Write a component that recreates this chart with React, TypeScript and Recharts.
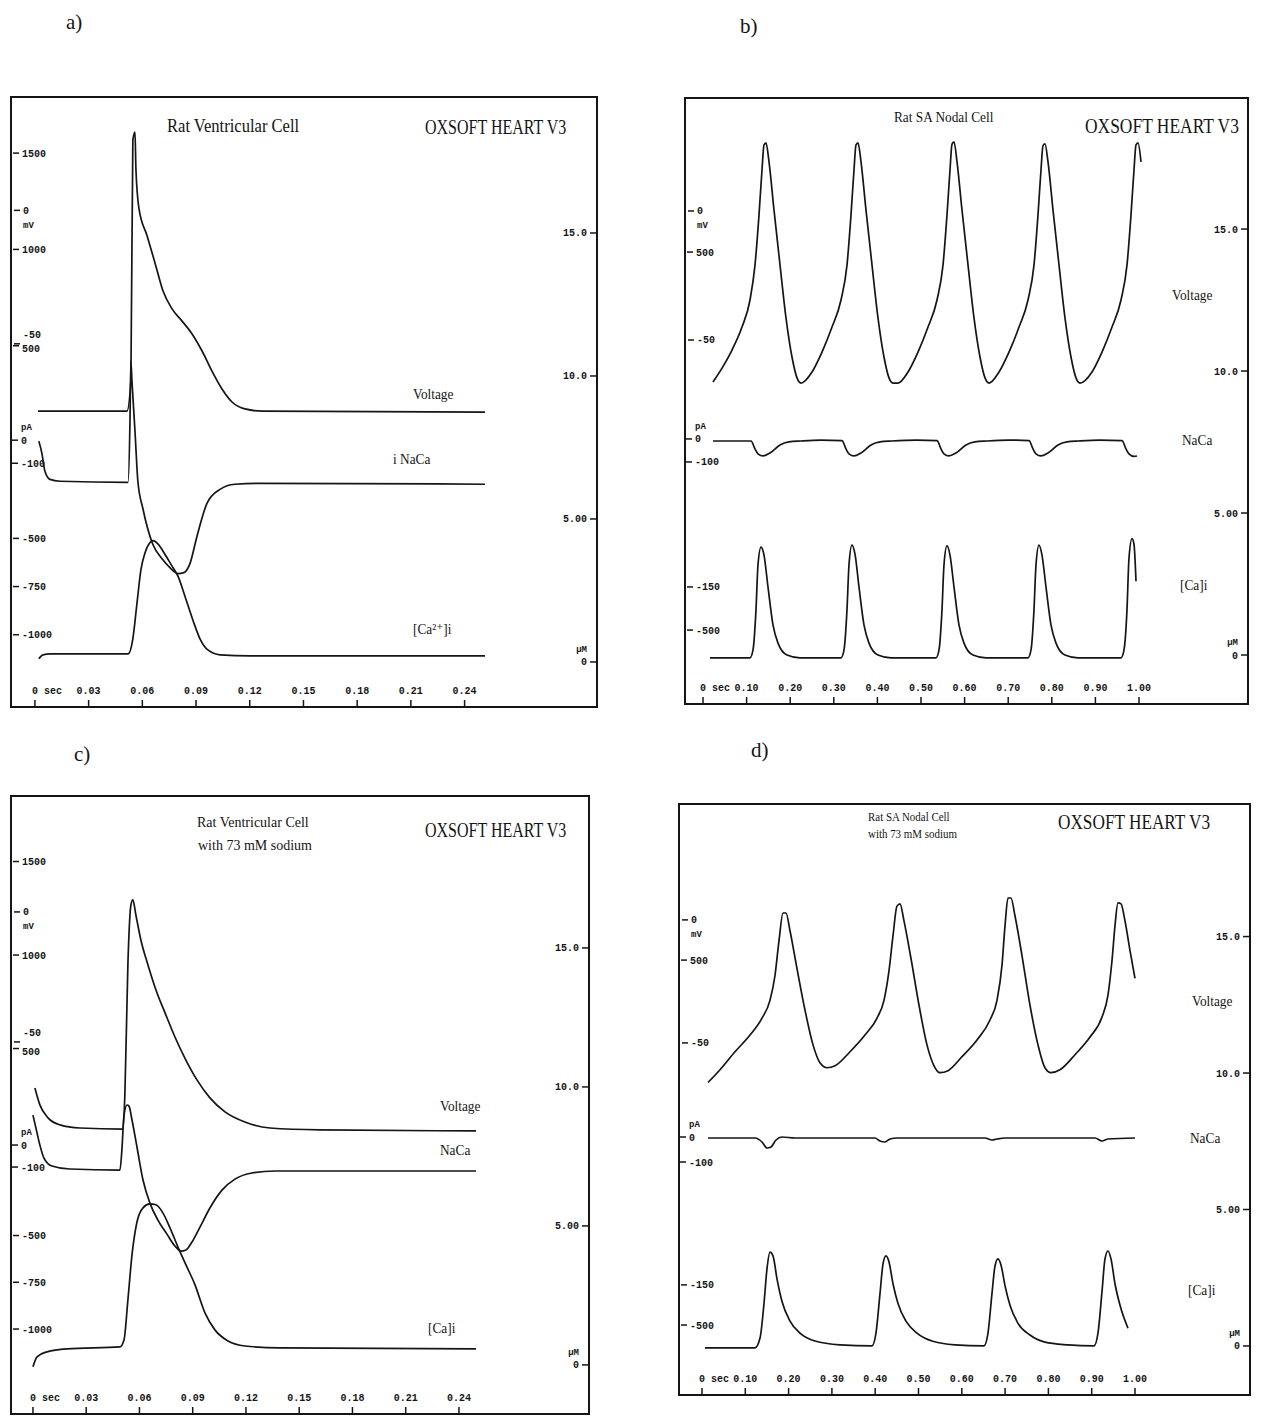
import { Line, LineChart, XAxis, YAxis } from "recharts";

// ---------- a) rat ventricular cell ----------
const aVoltT = [0.0017, 0.0514, 0.0536, 0.0547, 0.0559, 0.0564, 0.0581, 0.0626, 0.067, 0.0715, 0.0765, 0.0821, 0.0877, 0.0933, 0.0989, 0.1045, 0.1101, 0.1173, 0.1268, 0.2514];
const aVoltV = [-75.2, -75.2, -63.9, 26.3, 29.3, 15.8, 0.75, -9.4, -19.5, -30.1, -36.8, -41.4, -46.2, -52.6, -60.2, -66.9, -71.8, -74.4, -75.2, -75.6];
const aNaT = [0.0022, 0.0039, 0.0056, 0.0084, 0.014, 0.052, 0.0531, 0.0536, 0.0542, 0.0559, 0.0575, 0.0603, 0.0659, 0.0709, 0.0754, 0.0799, 0.0832, 0.0866, 0.0905, 0.0961, 0.1034, 0.1117, 0.1257, 0.2514];
const aNaV = [-4, -57, -135, -170, -178, -183, 83, 343, 257, 39, -178, -296, -452, -513, -552, -578, -574, -535, -417, -274, -213, -191, -187, -191];
const aCaT = [0.0022, 0.0045, 0.0084, 0.052, 0.0547, 0.057, 0.0592, 0.0615, 0.0642, 0.0659, 0.0687, 0.0721, 0.0765, 0.0799, 0.0838, 0.0883, 0.0922, 0.0966, 0.1034, 0.1201, 0.2514];
const aCaV = [0.11, 0.25, 0.28, 0.28, 0.81, 2.05, 3.22, 3.82, 4.17, 4.24, 4.13, 3.82, 3.36, 3.0, 2.3, 1.45, 0.81, 0.42, 0.25, 0.21, 0.21];

// ---------- b) rat SA nodal cell ----------
const bVoltT = [
  0.0229, 0.0436, 0.0665, 0.0894, 0.1078, 0.1193, 0.1284, 0.1353, 0.1399, 0.1445, 0.1514, 0.1628, 0.1766, 0.1904, 0.2041, 0.2156, 0.2248,
  0.25, 0.2729, 0.2959, 0.3165, 0.3303, 0.3394, 0.3463, 0.3509, 0.3555, 0.3624, 0.3738, 0.3876, 0.4014, 0.4151, 0.4266, 0.4358,
  0.4473, 0.4702, 0.4931, 0.5161, 0.5367, 0.5505, 0.5596, 0.5665, 0.5711, 0.5757, 0.5826, 0.594, 0.6078, 0.6216, 0.6353, 0.6468, 0.656,
  0.6789, 0.7018, 0.7248, 0.7454, 0.7592, 0.7683, 0.7752, 0.7798, 0.7844, 0.7913, 0.8027, 0.8165, 0.8303, 0.844, 0.8555, 0.8647,
  0.8922, 0.9151, 0.9381, 0.9587, 0.9725, 0.9816, 0.9885, 0.9931, 0.9977, 1.0046,
];
const bVoltV = [
  -66.3, -60.9, -53.9, -45, -34.5, -20.9, -1.6, 15.9, 25.6, 26.4, 19, 0.4, -20.9, -41.5, -56.6, -64.7, -66.7,
  -62.4, -54.7, -45, -34.5, -20.9, -1.6, 15.9, 25.6, 26.4, 19, 0.4, -20.9, -41.5, -56.6, -64.7, -66.7,
  -66.7, -62.4, -54.7, -45, -34.5, -20.9, -1.6, 15.9, 25.9, 26.8, 19, 0.4, -20.9, -41.5, -56.6, -64.7, -66.7,
  -62.4, -54.7, -45, -34.5, -20.9, -1.6, 15.9, 25.3, 26.0, 19, 0.4, -20.9, -41.5, -56.6, -64.7, -66.7,
  -62.4, -54.7, -45, -34.5, -20.9, -1.6, 15.9, 25.6, 26.4, 19,
];
const bNaT = [
  0.0229, 0.06, 0.1101, 0.1192, 0.1261, 0.1376, 0.1536, 0.1766, 0.1972, 0.2247, 0.27,
  0.3188, 0.3279, 0.3348, 0.3463, 0.3623, 0.3853, 0.4059, 0.4334, 0.49,
  0.5367, 0.5458, 0.5527, 0.5642, 0.5802, 0.6032, 0.6238, 0.6513, 0.7,
  0.7477, 0.7568, 0.7637, 0.7752, 0.7912, 0.8142, 0.8348, 0.8623, 0.91,
  0.961, 0.9701, 0.977, 0.9885, 0.9954,
];
const bNaV = [
  -9, -9, -9, -43, -65, -74, -61, -26, -13, -9, -5,
  -7, -43, -65, -74, -61, -26, -13, -9, -5,
  -7, -43, -65, -74, -61, -26, -13, -9, -5,
  -7, -43, -65, -74, -61, -26, -13, -9, -5,
  -7, -43, -65, -76, -74,
];
const bCaT = [
  0.0161, 0.1078, 0.1147, 0.1215, 0.1261, 0.133, 0.1399, 0.1491, 0.1605, 0.172, 0.1926, 0.2224,
  0.3165, 0.3234, 0.3302, 0.3348, 0.3417, 0.3486, 0.3578, 0.3692, 0.3807, 0.4013, 0.4311,
  0.5344, 0.5413, 0.5481, 0.5527, 0.5596, 0.5665, 0.5757, 0.5871, 0.5986, 0.6192, 0.649,
  0.7454, 0.7523, 0.7591, 0.7637, 0.7706, 0.7775, 0.7867, 0.7981, 0.8096, 0.8302, 0.86,
  0.9587, 0.9656, 0.9724, 0.977, 0.9839, 0.9885, 0.9931,
];
const bCaV = [
  -0.1, -0.1, 0.18, 1.58, 3.17, 3.8, 3.52, 2.39, 1.06, 0.42, 0.0, -0.1,
  -0.1, 0.18, 1.58, 3.17, 3.87, 3.55, 2.39, 1.06, 0.42, 0.0, -0.1,
  -0.1, 0.18, 1.58, 3.17, 3.84, 3.52, 2.39, 1.06, 0.42, 0.0, -0.1,
  -0.1, 0.18, 1.58, 3.17, 3.87, 3.52, 2.39, 1.06, 0.42, 0.0, -0.1,
  -0.1, 0.18, 1.58, 3.4, 4.1, 3.9, 2.6,
];

// ---------- c) rat ventricular cell, 73 mM sodium ----------
const cVoltT = [0.0011, 0.0039, 0.0085, 0.0152, 0.0265, 0.0507, 0.0518, 0.0535, 0.0552, 0.0563, 0.058, 0.0608, 0.0648, 0.0693, 0.0744, 0.08, 0.0856, 0.0924, 0.0997, 0.1082, 0.1194, 0.1335, 0.1617, 0.2496];
const cVoltV = [-67.7, -74.2, -79.2, -81.9, -83.1, -83.5, -70, -20, 2.7, 4.6, -1.2, -10.8, -20.4, -30, -38.8, -48.1, -56.2, -64.6, -71.5, -76.9, -80.8, -83.1, -83.8, -84.2];
const cNaT = [0, 0.0017, 0.0039, 0.0062, 0.0107, 0.0208, 0.049, 0.0501, 0.0513, 0.053, 0.0541, 0.0558, 0.0586, 0.062, 0.0659, 0.0704, 0.0755, 0.08, 0.0834, 0.0862, 0.0896, 0.0941, 0.0997, 0.1065, 0.1138, 0.1234, 0.1363, 0.2496];
const cNaV = [136, 77, 0, -59, -95, -109, -114, -23, 136, 182, 177, 114, -9, -159, -264, -341, -405, -459, -482, -477, -441, -373, -286, -205, -155, -127, -118, -118];
const cCaT = [0, 0.0023, 0.0079, 0.0192, 0.049, 0.0513, 0.0535, 0.0558, 0.0586, 0.062, 0.0659, 0.0693, 0.0732, 0.0772, 0.0817, 0.0862, 0.0913, 0.0969, 0.1025, 0.1099, 0.1194, 0.1392, 0.2496];
const cCaV = [-0.07, 0.29, 0.47, 0.58, 0.65, 0.9, 2.34, 3.96, 5.14, 5.65, 5.79, 5.76, 5.47, 4.93, 4.24, 3.6, 2.88, 1.87, 1.26, 0.86, 0.68, 0.61, 0.58];

// ---------- d) rat SA nodal cell, 73 mM sodium ----------
const dVoltT = [
  0.0139, 0.0416, 0.0762, 0.1109, 0.1386, 0.157, 0.1686, 0.1778, 0.1871, 0.194,
  0.2032, 0.2194, 0.2379, 0.2564, 0.2725, 0.2887, 0.3072, 0.3418, 0.3764, 0.4042,
  0.4203, 0.4319, 0.4411, 0.4503, 0.4573, 0.4665, 0.4827, 0.5012, 0.5196, 0.5358,
  0.5497, 0.5681, 0.6005, 0.6351, 0.6651, 0.6813, 0.6928, 0.6998, 0.7067, 0.7136,
  0.7229, 0.739, 0.7575, 0.776, 0.7921, 0.806, 0.8268, 0.8614, 0.8961, 0.9238,
  0.9376, 0.9469, 0.9538, 0.9607, 0.9677, 0.9769, 0.9885, 1.0,
];
const dVoltV = [
  -66.1, -60.9, -53.6, -46.8, -39.9, -32.7, -22.6, -8.5, 2.8, 2.8,
  -4.4, -19.8, -36.7, -50.8, -58.1, -60.1, -59.3, -53.6, -46.8, -39.9,
  -32.7, -20.6, -6.5, 5.6, 6.5, -0.4, -15.7, -34.7, -50.8, -59.3,
  -62.1, -61.3, -55.6, -48.8, -40.7, -32.7, -18.5, -2.4, 8.9, 8.9,
  1.6, -14.5, -34.7, -50.8, -60.1, -62.1, -60.9, -54.8, -47.6, -39.5,
  -30.6, -16.5, -2.4, 6.9, 6.5, -0.4, -12.5, -23.8,
];
const dNaT = [0.0139, 0.1224, 0.1386, 0.1501, 0.1594, 0.1709, 0.1848, 0.2148, 0.3995, 0.4111, 0.4226, 0.4342, 0.4503, 0.6536, 0.6697, 0.6813, 0.6998, 0.9076, 0.9238, 0.9376, 1.0];
const dNaV = [-4, -4, -20, -44, -40, -12, 0, -4, -4, -16, -20, -8, -4, -4, -12, -8, -4, -4, -16, -8, -4];
const dCaT = [
  0.0069, 0.1224, 0.134, 0.1432, 0.1501, 0.157, 0.164, 0.1732, 0.1848, 0.2032, 0.2263, 0.261, 0.3187,
  0.3926, 0.4018, 0.4111, 0.418, 0.4249, 0.4319, 0.4411, 0.4527, 0.4711, 0.4965, 0.5312, 0.5843,
  0.6513, 0.6605, 0.6697, 0.6767, 0.6836, 0.6905, 0.6998, 0.7113, 0.7298, 0.7575, 0.7921, 0.8453,
  0.9053, 0.9145, 0.9238, 0.9307, 0.9376, 0.9446, 0.9538, 0.9654, 0.9838,
];
const dCaV = [
  -0.07, -0.07, 0.29, 1.56, 2.83, 3.44, 3.3, 2.46, 1.63, 0.91, 0.47, 0.18, 0.04,
  0.0, 0.47, 1.92, 3.0, 3.3, 3.08, 2.28, 1.56, 0.91, 0.47, 0.18, 0.04,
  0.0, 0.47, 1.92, 2.93, 3.19, 2.97, 2.21, 1.49, 0.83, 0.4, 0.14, 0.04,
  0.0, 0.47, 1.99, 3.19, 3.48, 3.19, 2.28, 1.49, 0.65,
];

// ---------- tick values & labels ----------
const ventXTicks = [0, 0.03, 0.06, 0.09, 0.12, 0.15, 0.18, 0.21, 0.24];
const ventXLabels = ["0 sec", "0.03", "0.06", "0.09", "0.12", "0.15", "0.18", "0.21", "0.24"];
const nodalXTicks = [0, 0.1, 0.2, 0.3, 0.4, 0.5, 0.6, 0.7, 0.8, 0.9, 1.0];
const nodalXLabels = ["0 sec", "0.10", "0.20", "0.30", "0.40", "0.50", "0.60", "0.70", "0.80", "0.90", "1.00"];
const voltTicks = [0, -50];
const voltLabels = ["0", "-50"];
const naTicks = [0, -100];
const naLabels = ["0", "-100"];
const ventScaleTicks = [1500, 1000, 500, -500, -750, -1000];
const ventScaleLabels = ["1500", "1000", "500", "-500", "-750", "-1000"];
const bScaleTicks = [500, -386, -500];
const dScaleTicks = [500, -390, -500];
const nodalScaleLabels = ["500", "-150", "-500"];
const caTicks = [15, 10, 5, 0];
const caLabels = ["15.0", "10.0", "5.00", "0"];

const ink = "#151515";
const tickFont = "Liberation Mono, DejaVu Sans Mono, monospace";
const serif = "Liberation Serif, DejaVu Serif, serif";

type Box = { l: number; t: number; r: number; b: number };
type YAx = {
  id: string;
  side: "left" | "right";
  domain: [number, number];
  ticks: number[];
  labels: string[];
  unit?: string;
  unitDy?: number;
  nudge?: number[]; // vertical nudge of a crowded label, px
};
type Series = { id: string; ts: number[]; vs: number[] };

const zip = (ts: number[], vs: number[]) => ts.map((t, i) => ({ t, y: vs[i] }));

function YTick(props: any) {
  const { x, y, payload, textAnchor, ax } = props;
  const i = ax.ticks.indexOf(payload.value);
  const isZero = payload.value === 0 && ax.unit;
  const nudge = ax.nudge ? ax.nudge[i] : 0;
  return (
    <g>
      <text x={x} y={y + nudge} dy="0.35em" textAnchor={textAnchor} fontFamily={tickFont} fontSize={10} fontWeight={700} fill={ink}>
        {ax.labels[i]}
      </text>
      {isZero ? (
        <text x={x} y={y + ax.unitDy} dy="0.35em" textAnchor={textAnchor} fontFamily={tickFont} fontSize={9} fontWeight={700} fill={ink}>
          {ax.unit}
        </text>
      ) : null}
    </g>
  );
}

function XTick(props: any) {
  const { x, y, payload, ticks, labels } = props;
  const i = ticks.indexOf(payload.value);
  const first = i === 0;
  return (
    <text x={first ? x - 3 : x} y={y} dy={-1} textAnchor={first ? "start" : "middle"} fontFamily={tickFont} fontSize={10} fontWeight={700} fill={ink}>
      {labels[i]}
    </text>
  );
}

function Panel({ box, xDomain, xTicks, xLabels, axes, series }: {
  box: Box;
  xDomain: [number, number];
  xTicks: number[];
  xLabels: string[];
  axes: YAx[];
  series: Series[];
}) {
  const w = box.r - box.l - 4;
  const h = box.b - box.t - 4;
  return (
    <div style={{ position: "absolute", left: box.l, top: box.t, width: w, height: h, border: `2px solid ${ink}` }}>
      <LineChart width={w} height={h} margin={{ top: 0, right: 0, bottom: 0, left: 0 }} style={{ overflow: "visible" }}>
        <XAxis
          type="number"
          dataKey="t"
          domain={xDomain}
          allowDataOverflow
          ticks={xTicks}
          interval={0}
          mirror
          height={1}
          axisLine={false}
          tickSize={6}
          tickMargin={5}
          tickLine={{ stroke: ink, strokeWidth: 1.5 }}
          tick={(p: any) => <XTick {...p} ticks={xTicks} labels={xLabels} />}
        />
        {axes.map((a) => (
          <YAxis
            key={a.id}
            yAxisId={a.id}
            orientation={a.side}
            type="number"
            domain={a.domain}
            allowDataOverflow
            ticks={a.ticks}
            interval={0}
            mirror
            width={1}
            axisLine={false}
            tickSize={6}
            tickMargin={3}
            tickLine={{ stroke: ink, strokeWidth: 1.5 }}
            tick={(p: any) => <YTick {...p} ax={a} />}
          />
        ))}
        {series.map((s) => (
          <Line
            key={s.id}
            yAxisId={s.id}
            data={zip(s.ts, s.vs)}
            dataKey="y"
            type="monotone"
            dot={false}
            activeDot={false}
            stroke={ink}
            strokeWidth={1.7}
            isAnimationActive={false}
          />
        ))}
      </LineChart>
    </div>
  );
}

function Label({ x, y, size, text, sx }: { x: number; y: number; size: number; text: string; sx?: number }) {
  return (
    <div
      style={{
        position: "absolute",
        left: x,
        top: y,
        fontFamily: serif,
        fontSize: size,
        lineHeight: 1,
        color: ink,
        whiteSpace: "nowrap",
        transform: sx ? `scaleX(${sx})` : undefined,
        transformOrigin: "left top",
      }}
    >
      {text}
    </div>
  );
}

export default function App() {
  return (
    <div style={{ position: "absolute", left: 0, top: 0, width: 1263, height: 1418, background: "#fff", overflow: "hidden" }}>
      <Panel
        box={{ l: 10, t: 96, r: 598, b: 708 }}
        xDomain={[-0.0128, 0.3134]}
        xTicks={ventXTicks}
        xLabels={ventXLabels}
        axes={[
          { id: "v", side: "left", domain: [-185.7, 42.1], ticks: voltTicks, labels: voltLabels, unit: "mV", unitDy: 14, nudge: [0, -9] },
          { id: "n", side: "left", domain: [-1152, 1483], ticks: naTicks, labels: naLabels, unit: "pA", unitDy: -13 },
          { id: "s", side: "left", domain: [-1370, 1786], ticks: ventScaleTicks, labels: ventScaleLabels, nudge: [0, 0, 3, 0, 0, 0] },
          { id: "c", side: "right", domain: [-1.54, 19.72], ticks: caTicks, labels: caLabels, unit: "µM", unitDy: -13 },
        ]}
        series={[
          { id: "v", ts: aVoltT, vs: aVoltV },
          { id: "n", ts: aNaT, vs: aNaV },
          { id: "c", ts: aCaT, vs: aCaV },
        ]}
      />
      <Panel
        box={{ l: 684, t: 97, r: 1249, b: 705 }}
        xDomain={[-0.039, 1.2477]}
        xTicks={nodalXTicks}
        xLabels={nodalXLabels}
        axes={[
          { id: "v", side: "left", domain: [-190.7, 43.4], ticks: voltTicks, labels: voltLabels, unit: "mV", unitDy: 14 },
          { id: "n", side: "left", domain: [-1148, 1478], ticks: naTicks, labels: naLabels, unit: "pA", unitDy: -13 },
          { id: "s", side: "left", domain: [-693, 905], ticks: bScaleTicks, labels: nodalScaleLabels },
          { id: "c", side: "right", domain: [-1.69, 19.58], ticks: caTicks, labels: caLabels, unit: "µM", unitDy: -13 },
        ]}
        series={[
          { id: "v", ts: bVoltT, vs: bVoltV },
          { id: "n", ts: bNaT, vs: bNaV },
          { id: "c", ts: bCaT, vs: bCaV },
        ]}
      />
      <Panel
        box={{ l: 10, t: 795, r: 590, b: 1415 }}
        xDomain={[-0.0118, 0.3127]}
        xTicks={ventXTicks}
        xLabels={ventXLabels}
        axes={[
          { id: "v", side: "left", domain: [-192.7, 44.2], ticks: voltTicks, labels: voltLabels, unit: "mV", unitDy: 14, nudge: [0, -9] },
          { id: "n", side: "left", domain: [-1218, 1582], ticks: naTicks, labels: naLabels, unit: "pA", unitDy: -13 },
          { id: "s", side: "left", domain: [-1449, 1845], ticks: ventScaleTicks, labels: ventScaleLabels, nudge: [0, 0, 3, 0, 0, 0] },
          { id: "c", side: "right", domain: [-1.73, 20.43], ticks: caTicks, labels: caLabels, unit: "µM", unitDy: -13 },
        ]}
        series={[
          { id: "v", ts: cVoltT, vs: cVoltV },
          { id: "n", ts: cNaT, vs: cNaV },
          { id: "c", ts: cCaT, vs: cCaV },
        ]}
      />
      <Panel
        box={{ l: 678, t: 803, r: 1251, b: 1396 }}
        xDomain={[-0.0508, 1.2633]}
        xTicks={nodalXTicks}
        xLabels={nodalXLabels}
        axes={[
          { id: "v", side: "left", domain: [-192.7, 46.7], ticks: voltTicks, labels: voltLabels, unit: "mV", unitDy: 14 },
          { id: "n", side: "left", domain: [-1028, 1328], ticks: naTicks, labels: naLabels, unit: "pA", unitDy: -13 },
          { id: "s", side: "left", domain: [-689, 925], ticks: dScaleTicks, labels: nodalScaleLabels },
          { id: "c", side: "right", domain: [-1.76, 19.82], ticks: caTicks, labels: caLabels, unit: "µM", unitDy: -13 },
        ]}
        series={[
          { id: "v", ts: dVoltT, vs: dVoltV },
          { id: "n", ts: dNaT, vs: dNaV },
          { id: "c", ts: dCaT, vs: dCaV },
        ]}
      />

      <Label x={66} y={12} size={21} text="a)" />
      <Label x={740} y={16} size={21} text="b)" />
      <Label x={74} y={744} size={21} text="c)" />
      <Label x={751} y={740} size={21} text="d)" />

      <Label x={167} y={117} size={18} sx={0.92} text="Rat Ventricular Cell" />
      <Label x={425} y={117} size={20} sx={0.8} text="OXSOFT HEART V3" />
      <Label x={894} y={111} size={14} sx={0.95} text="Rat SA Nodal Cell" />
      <Label x={1085} y={116} size={21} sx={0.83} text="OXSOFT HEART V3" />
      <Label x={197} y={816} size={14} sx={1.0} text="Rat Ventricular Cell" />
      <Label x={198} y={839} size={14} sx={1.0} text="with 73 mM sodium" />
      <Label x={425} y={820} size={20} sx={0.8} text="OXSOFT HEART V3" />
      <Label x={868} y={810} size={13} sx={0.84} text="Rat SA Nodal Cell" />
      <Label x={868} y={827} size={13} sx={0.84} text="with 73 mM sodium" />
      <Label x={1058} y={812} size={21} sx={0.82} text="OXSOFT HEART V3" />

      <Label x={413} y={388} size={14} sx={0.95} text="Voltage" />
      <Label x={393} y={453} size={14} sx={0.95} text="i NaCa" />
      <Label x={413} y={623} size={14} sx={0.95} text="[Ca²⁺]i" />
      <Label x={1172} y={289} size={14} sx={0.95} text="Voltage" />
      <Label x={1182} y={434} size={14} sx={0.95} text="NaCa" />
      <Label x={1180} y={579} size={14} sx={0.95} text="[Ca]i" />
      <Label x={440} y={1100} size={14} sx={0.95} text="Voltage" />
      <Label x={440} y={1144} size={14} sx={0.95} text="NaCa" />
      <Label x={428} y={1322} size={14} sx={0.95} text="[Ca]i" />
      <Label x={1192} y={995} size={14} sx={0.95} text="Voltage" />
      <Label x={1190} y={1132} size={14} sx={0.95} text="NaCa" />
      <Label x={1188} y={1284} size={14} sx={0.95} text="[Ca]i" />
    </div>
  );
}
